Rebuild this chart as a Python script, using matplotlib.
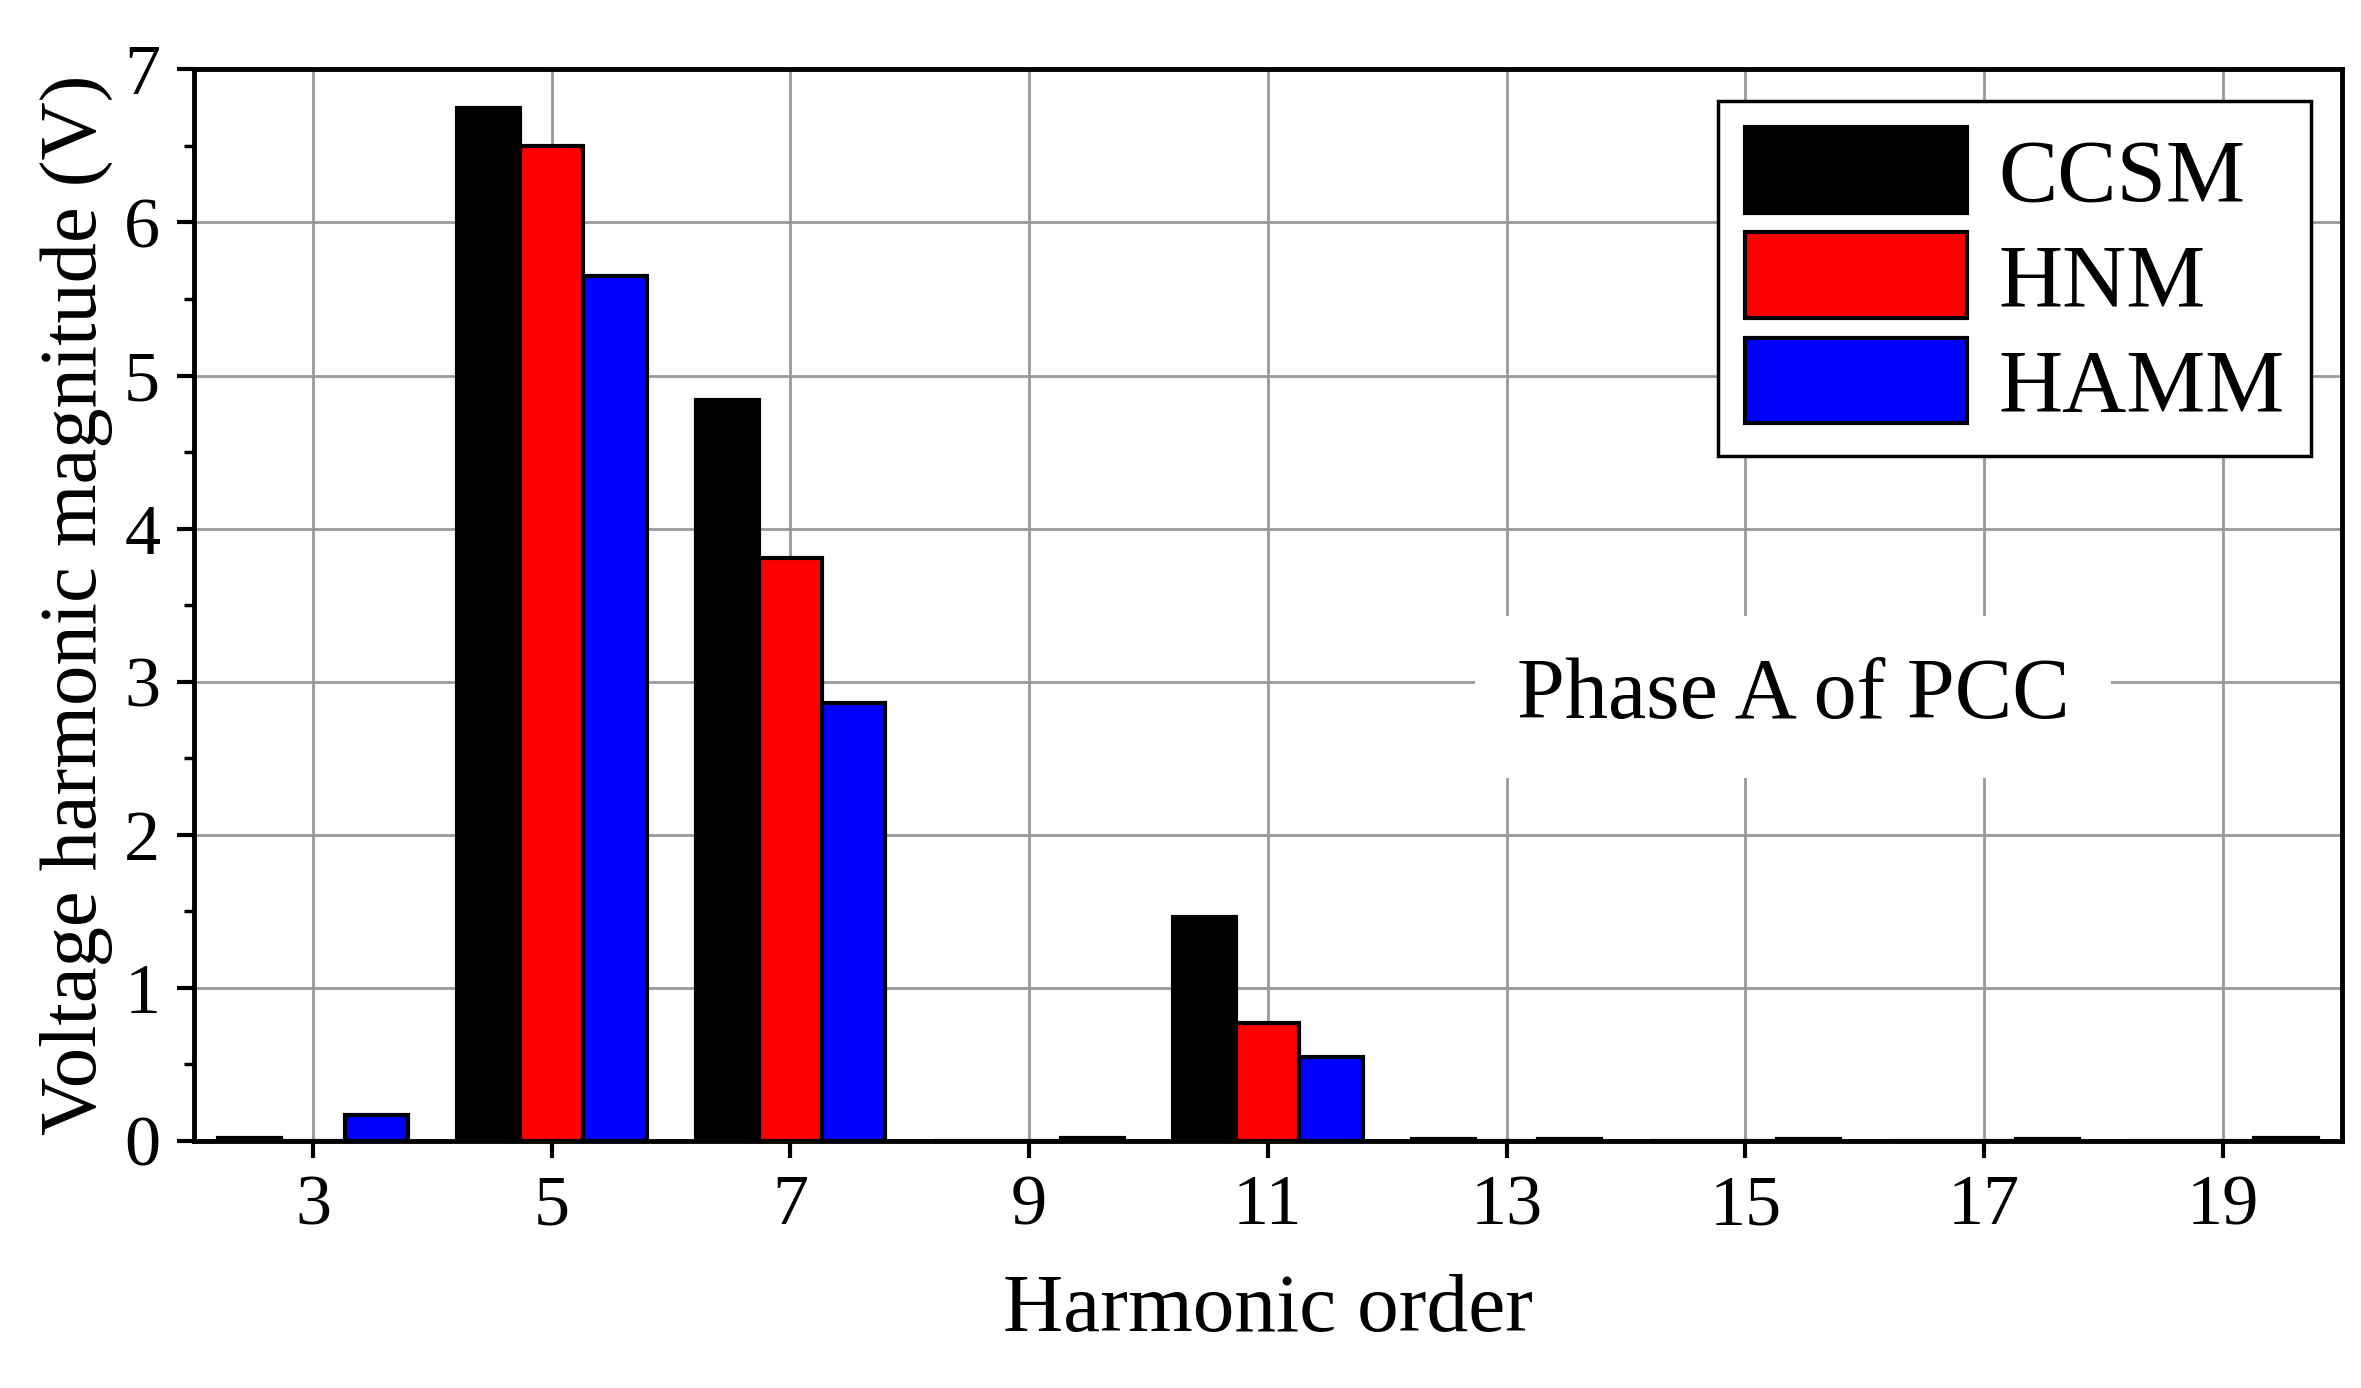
import matplotlib
matplotlib.use("Agg")
import matplotlib.pyplot as plt
import numpy as np

orders = [3, 5, 7, 9, 11, 13, 15, 17, 19]
ccsm = [0.02, 6.75, 4.84, 0.0, 1.46, 0.01, 0.0, 0.0, 0.0]
hnm = [0.0, 6.50, 3.81, 0.0, 0.77, 0.0, 0.0, 0.0, 0.0]
hamm = [0.17, 5.65, 2.86, 0.02, 0.55, 0.01, 0.01, 0.01, 0.02]
names = ["CCSM", "HNM", "HAMM"]
colors = ["black", "red", "blue"]

plt.rcParams['font.family'] = ['Liberation Serif', 'DejaVu Serif']
fig = plt.figure(figsize=(23.61, 13.88), dpi=100)
ax = fig.add_axes([0.082, 0.178, 0.910, 0.772])
x = np.array(orders, dtype=float)
w = 0.53
for i, (vals, nm, c) in enumerate(zip([ccsm, hnm, hamm], names, colors)):
    ax.bar(x + (i - 1) * w, vals, width=w, color=c, edgecolor='black', linewidth=3, label=nm, zorder=3)
ax.set_xlim(2, 20)
ax.set_ylim(0, 7)
ax.set_xticks(orders)
ax.set_yticks(range(8))
ax.set_yticks(np.arange(0.5, 7, 1), minor=True)
ax.grid(True, color='#999999', linewidth=2, zorder=0)
ax.tick_params(axis='both', which='major', labelsize=52, length=12, width=3, direction='out', pad=12)
ax.tick_params(axis='y', which='minor', length=7, width=2.5)
for s in ax.spines.values():
    s.set_linewidth(3.5)
ax.set_xlabel("Harmonic order", fontsize=60, labelpad=25)
ax.set_ylabel("Voltage harmonic magnitude (V)", fontsize=58, labelpad=8)
ax.text(15.4, 2.9, "Phase A of PCC", fontsize=62, ha='center', va='center',
        bbox=dict(facecolor='white', edgecolor='none', pad=30), zorder=4)
leg = ax.legend(loc='upper right', fontsize=64, fancybox=False, framealpha=1,
                edgecolor='black', handlelength=2.5, handleheight=1.1,
                borderaxespad=0.35, handletextpad=0.35, labelspacing=0.15,
                borderpad=0.3)
leg.get_frame().set_linewidth(2.5)
for p in leg.get_patches():
    p.set_linewidth(3)
leg.set_zorder(5)
fig.savefig("out.png", dpi=100)
